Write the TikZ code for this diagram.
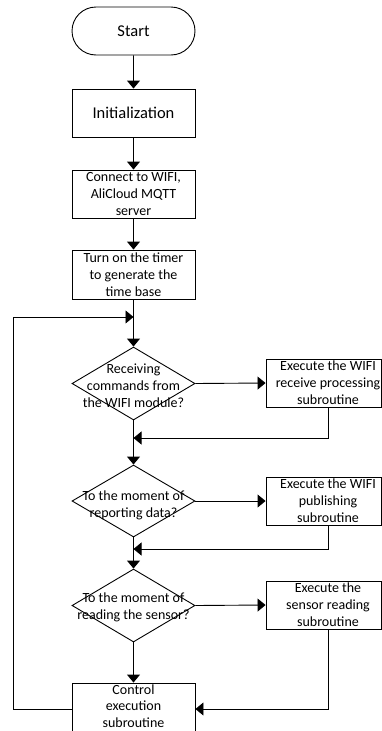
\documentclass[tikz,border=0pt]{standalone}
\usepackage{fontspec}
\setmainfont{Carlito}
\usetikzlibrary{arrows.meta,shapes.geometric,shapes.misc}
\begin{document}
\begin{tikzpicture}[x=1pt,y=-1pt,
  box/.style={draw, line width=0.9pt, minimum width=123pt, minimum height=48pt, inner sep=0pt, align=center, font=\fontsize{14}{17}\selectfont},
  rbox/.style={draw, line width=0.9pt, minimum width=115pt, minimum height=48pt, inner sep=0pt},
  big/.style={font=\fontsize{16.5}{20}\selectfont},
  dec/.style={draw, diamond, line width=0.9pt, minimum width=123pt, minimum height=73pt, inner sep=0pt},
  txt/.style={align=center, inner sep=0pt, font=\fontsize{14}{17}\selectfont},
  arr/.style={-{Triangle[width=13pt,length=8pt]}, line width=0.9pt},
  ln/.style={line width=0.9pt}]
\useasboundingbox (0,0) rectangle (382,731);
% left column
\node[draw, rounded rectangle, line width=0.9pt, minimum width=123pt, minimum height=48pt, inner sep=0pt, big] (start) at (133.5,31) {Start};
\node[box, big] (init) at (133.5,113) {Initialization};
\node[box] (conn) at (133.5,194) {Connect to WIFI,\\AliCloud MQTT\\server};
\node[box, minimum height=49pt] (timer) at (133.5,274.5) {Turn on the timer\\to generate the\\time base};
\node[dec] (d1) at (133.5,383.5) {};
\node[txt] (d1t) at (133.5,385.5) {Receiving\\commands from\\the WIFI module?};
\node[dec, minimum height=72pt] (d2) at (133.5,501) {};
\node[txt] (d2t) at (133.5,505) {To the moment of\\reporting data?};
\node[dec] (d3) at (133.5,605.5) {};
\node[txt] (d3t) at (133.5,607.5) {To the moment of\\reading the sensor?};
\node[box, minimum height=52pt] (ctrl) at (133.5,709) {};
\node[txt, font=\fontsize{14}{16.5}\selectfont] (ctrlt) at (133.5,706) {Control\\execution\\subroutine};
% right column
\node[rbox] (b1) at (323.5,383) {};
\node[txt] (b1t) at (328,383) {Execute the WIFI\\receive processing\\subroutine};
\node[rbox] (b2) at (323.5,501) {};
\node[txt] (b2t) at (328,501) {Execute the WIFI\\publishing\\subroutine};
\node[rbox] (b3) at (323.5,605) {};
\node[txt] (b3t) at (328,605) {Execute the\\sensor reading\\subroutine};
% coordinates
\coordinate (loopin) at (133.5,317);
\coordinate (lc) at (13,317);
\coordinate (m1) at (133.5,438);
\coordinate (m2) at (133.5,549);
% connectors
\draw[arr] (start) -- (init);
\draw[arr] (init) -- (conn);
\draw[arr] (conn) -- (timer);
\draw[arr] (timer) -- (d1);
\draw[arr] (ctrl.west) -| (lc) -- (loopin);
\draw[arr] (d1.east) -- (b1.west);
\draw[arr] (b1.south -| b1t) |- (m1);
\draw[arr] (d1) -- (d2);
\draw[arr] (d2.east) -- (b2.west);
\draw[arr] (b2.south -| b2t) |- (m2);
\draw[arr] (d2) -- (d3);
\draw[arr] (d3.east) -- (b3.west);
\draw[arr] (b3.south -| b3t) |- (ctrl.east);
\draw[arr] (d3) -- (ctrl);
\end{tikzpicture}
\end{document}
